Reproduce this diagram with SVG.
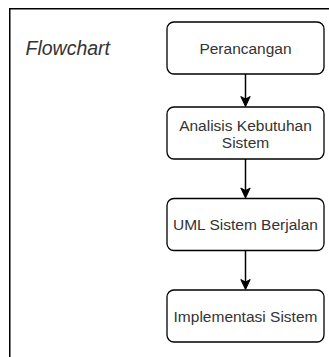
<svg xmlns="http://www.w3.org/2000/svg" width="329" height="357" viewBox="0 0 329 357">
<defs>
<style>
.node rect{fill:#fff;stroke:#000;stroke-width:1.3}
.node text{font-family:"Liberation Sans",Arial,sans-serif;font-size:15.5px;fill:#333;text-anchor:middle}
.edge{stroke:#000;stroke-width:1.5;fill:none}
.head{fill:#000;stroke:#000;stroke-width:1}
</style>
</defs>
<rect x="9.75" y="8.75" width="400" height="400" fill="#fff" stroke="#000" stroke-width="1.5"/>
<text x="25.5" y="55" font-family="'Liberation Sans',Arial,sans-serif" font-size="19.5" font-style="italic" fill="#333">Flowchart</text>
<g id="connectors">
<line class="edge" x1="245.5" y1="74" x2="245.5" y2="100"/>
<path class="head" d="M245.5 106.5 L240.8 96.5 L245.5 99 L250.2 96.5 Z"/>
<line class="edge" x1="245.5" y1="159" x2="245.5" y2="192"/>
<path class="head" d="M245.5 198 L240.8 188 L245.5 190.5 L250.2 188 Z"/>
<line class="edge" x1="245.5" y1="250.5" x2="245.5" y2="283.5"/>
<path class="head" d="M245.5 289.5 L240.8 279.5 L245.5 282 L250.2 279.5 Z"/>
</g>
<g id="perancangan" class="node">
<rect x="167" y="22" width="157" height="52" rx="7"/>
<text x="245.5" y="53.5">Perancangan</text>
</g>
<g id="analisis" class="node">
<rect x="167" y="107" width="157" height="52" rx="7"/>
<text x="245.5" y="130.5">Analisis Kebutuhan</text>
<text x="245.5" y="147.5">Sistem</text>
</g>
<g id="uml" class="node">
<rect x="167" y="198.5" width="157" height="52" rx="7"/>
<text x="245.5" y="230">UML Sistem Berjalan</text>
</g>
<g id="implementasi" class="node">
<rect x="167" y="290" width="157" height="52" rx="7"/>
<text x="245.5" y="321.5">Implementasi Sistem</text>
</g>
</svg>
